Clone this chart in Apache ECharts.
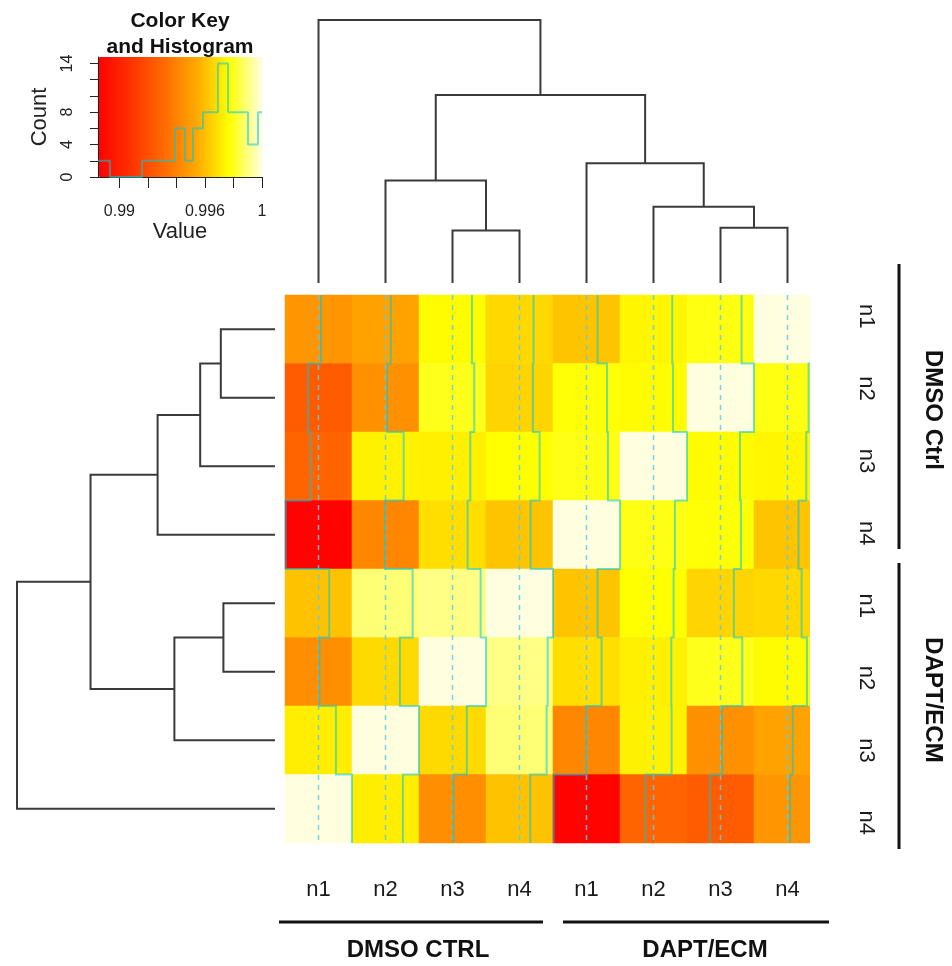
<!DOCTYPE html>
<html>
<head>
<meta charset="utf-8">
<script src="https://cdn.jsdelivr.net/npm/echarts@6/dist/echarts.min.js"></script>
<style>
html, body { margin: 0; padding: 0; background: #fff; }
#main { width: 952px; height: 966px; }
</style>
</head>
<body>
<div id="main"></div>
<script>
var colLabels = ['n1', 'n2', 'n3', 'n4', 'n1', 'n2', 'n3', 'n4'];
var rowLabels = ['n1', 'n2', 'n3', 'n4', 'n1', 'n2', 'n3', 'n4'];
var colGroups = ['DMSO CTRL', 'DAPT/ECM'];
var rowGroups = ['DMSO Ctrl', 'DAPT/ECM'];

// correlation values, rows top to bottom, columns left to right
var values = [
    [0.99471, 0.99517, 0.99759, 0.99667, 0.99615, 0.99747, 0.99787, 1.00000],
    [0.99247, 0.99454, 0.99799, 0.99655, 0.99776, 0.99759, 1.00000, 0.99787],
    [0.99287, 0.99736, 0.99730, 0.99770, 0.99793, 1.00000, 0.99759, 0.99747],
    [0.98862, 0.99419, 0.99684, 0.99615, 1.00000, 0.99793, 0.99776, 0.99615],
    [0.99609, 0.99891, 0.99908, 1.00000, 0.99615, 0.99770, 0.99655, 0.99667],
    [0.99442, 0.99672, 1.00000, 0.99908, 0.99684, 0.99730, 0.99799, 0.99759],
    [0.99724, 1.00000, 0.99672, 0.99891, 0.99419, 0.99736, 0.99454, 0.99517],
    [1.00000, 0.99724, 0.99442, 0.99609, 0.98862, 0.99287, 0.99247, 0.99471]
];

var keyMin = 0.9885, keyMax = 1.0;
var keyTicks = [0.99, 0.992, 0.994, 0.996, 0.998, 1];
var keyTickLabels = [0.99, 0.996, 1];
var countTicks = [0, 2, 4, 6, 8, 10, 12, 14];
var countTickLabels = [0, 4, 8, 14];
var histEdges = [0.9885, 0.98934, 0.99159, 0.99390, 0.99460, 0.99516, 0.99586, 0.99691, 0.99762, 0.99902, 0.99972, 1.0];
var histCounts = [2, 0, 2, 6, 2, 6, 8, 14, 8, 4, 8];

// dendrogram, hclust style: negative = leaf (display order), positive = earlier merge
var treeMerge = [[-3, -4], [-7, -8], [-6, 2], [-2, 1], [-5, 3], [4, 5], [-1, 6]];
var treeHeight = [0.20, 0.21, 0.29, 0.39, 0.455, 0.715, 1.0];

var heatColors = ['#ff0000', '#ff3200', '#ff6a00', '#ffa800', '#ffff00', '#ffffe0'];
var font = '"Liberation Sans", Arial, sans-serif';
var traceColor = 'rgba(0,200,220,0.55)';
var treeColor = '#3a3a3a';

function dendroSegments(merge, height) {
    var pos = [], hgt = [], segs = [];
    function node(k) {
        return k < 0 ? { p: -k - 1, h: 0 } : { p: pos[k - 1], h: hgt[k - 1] };
    }
    merge.forEach(function (m, i) {
        var a = node(m[0]), b = node(m[1]), h = height[i];
        segs.push([[a.p, a.h], [a.p, h], [b.p, h], [b.p, b.h]]);
        pos.push((a.p + b.p) / 2);
        hgt.push(h);
    });
    return segs;
}

var heatData = [];
values.forEach(function (row, i) {
    row.forEach(function (v, j) { heatData.push([j, i, v]); });
});

var span = keyMax - keyMin;
var traceData = colLabels.map(function (_, j) {
    var pts = [];
    values.forEach(function (row, i) {
        var x = j - 0.5 + (row[j] - keyMin) / span;
        pts.push([x, i - 0.5], [x, i + 0.5]);
    });
    return { coords: pts };
});
var centerData = colLabels.map(function (_, j) {
    return { coords: [[j, -0.5], [j, 7.5]] };
});

var segs = dendroSegments(treeMerge, treeHeight);
var topTree = segs.map(function (s) { return { coords: s }; });
var leftTree = segs.map(function (s) {
    return { coords: s.map(function (p) { return [p[1], p[0]]; }) };
});

var histLine = [];
histCounts.forEach(function (c, k) {
    histLine.push([histEdges[k], c], [histEdges[k + 1], c]);
});

var hidden = { show: false };
function hiddenValue(grid, min, max, inverse) {
    return { type: 'value', gridIndex: grid, min: min, max: max, inverse: !!inverse, show: false };
}

var chart = echarts.init(document.getElementById('main'));

var option = {
    animation: false,
    backgroundColor: '#fff',
    grid: [
        { left: 285, top: 295, width: 536, height: 548 },   // heatmap
        { left: 285, top: 295, width: 536, height: 548 },   // trace overlay
        { left: 285, top: 20, width: 536, height: 263 },    // column dendrogram
        { left: 17, top: 295, width: 258, height: 548 },    // row dendrogram
        { left: 98, top: 57, width: 164, height: 120 },     // colour key
        { left: 850, top: 280, width: 1, height: 579 }      // right labels
    ],
    xAxis: [
        {
            type: 'category', gridIndex: 0, data: colLabels,
            axisLine: hidden, axisTick: hidden, splitLine: hidden,
            axisLabel: { interval: 0, fontSize: 22, margin: 36, color: '#1a1a1a', fontFamily: font }
        },
        hiddenValue(1, -0.5, 7.5),
        hiddenValue(2, -0.5, 7.5),
        hiddenValue(3, 0, 1, true),
        {
            type: 'value', gridIndex: 4, min: keyMin, max: keyMax, z: 3,
            splitLine: hidden,
            axisLine: { lineStyle: { color: '#222', width: 1 } },
            axisTick: { customValues: keyTicks, length: 11, lineStyle: { color: '#222' } },
            axisLabel: { customValues: keyTickLabels, margin: 27, fontSize: 16, color: '#222', fontFamily: font },
            name: 'Value', nameLocation: 'middle', nameGap: 44,
            nameTextStyle: { fontSize: 22, color: '#222', fontFamily: font }
        },
        hiddenValue(5, 0, 1)
    ],
    yAxis: [
        { type: 'category', gridIndex: 0, data: rowLabels, inverse: true, show: false },
        hiddenValue(1, -0.5, 7.5, true),
        hiddenValue(2, 0, 1),
        hiddenValue(3, -0.5, 7.5),
        {
            type: 'value', gridIndex: 4, min: 0, max: 14.8, z: 3,
            splitLine: hidden,
            axisLine: { show: true, lineStyle: { color: '#222', width: 1 } },
            axisTick: { show: true, customValues: countTicks, length: 8, lineStyle: { color: '#222' } },
            axisLabel: { customValues: countTickLabels, rotate: 90, margin: 22, fontSize: 16, color: '#222', fontFamily: font },
            name: 'Count', nameLocation: 'middle', nameRotate: 90, nameGap: 47,
            nameTextStyle: { fontSize: 22, color: '#222', fontFamily: font }
        },
        {
            type: 'category', gridIndex: 5, data: rowLabels, inverse: true, position: 'right',
            axisLine: hidden, axisTick: hidden, splitLine: hidden,
            axisLabel: { interval: 0, rotate: -90, fontSize: 22, margin: 4, color: '#1a1a1a', fontFamily: font }
        }
    ],
    visualMap: {
        type: 'continuous', min: keyMin, max: keyMax, seriesIndex: 0,
        orient: 'horizontal', left: 98, top: 57, padding: 0,
        itemWidth: 120, itemHeight: 164, calculable: false, hoverLink: false,
        inRange: { color: heatColors }, z: 0
    },
    series: [
        {
            type: 'heatmap', xAxisIndex: 0, yAxisIndex: 0, data: heatData, silent: true
        },
        {
            type: 'lines', coordinateSystem: 'cartesian2d', xAxisIndex: 1, yAxisIndex: 1,
            polyline: true, silent: true, data: centerData, z: 3,
            lineStyle: { color: 'rgba(90,205,235,0.85)', opacity: 1, width: 1.5, type: [5, 5] }
        },
        {
            type: 'lines', coordinateSystem: 'cartesian2d', xAxisIndex: 1, yAxisIndex: 1,
            polyline: true, silent: true, data: traceData, z: 4,
            lineStyle: { color: traceColor, opacity: 1, width: 2, type: 'solid' }
        },
        {
            type: 'lines', coordinateSystem: 'cartesian2d', xAxisIndex: 2, yAxisIndex: 2,
            polyline: true, silent: true, data: topTree,
            lineStyle: { color: treeColor, opacity: 1, width: 2, type: 'solid' }
        },
        {
            type: 'lines', coordinateSystem: 'cartesian2d', xAxisIndex: 3, yAxisIndex: 3,
            polyline: true, silent: true, data: leftTree,
            lineStyle: { color: treeColor, opacity: 1, width: 2, type: 'solid' }
        },
        {
            type: 'line', xAxisIndex: 4, yAxisIndex: 4, data: histLine, z: 5,
            symbol: 'none', silent: true,
            lineStyle: { color: traceColor, width: 2 }
        }
    ],
    graphic: [
        // the last heatmap column is cut at the picture edge
        { type: 'rect', shape: { x: 810, y: 290, width: 14, height: 560 }, style: { fill: '#fff' }, z: 100 },
        {
            type: 'text', x: 180, y: 8, z: 100,
            style: { text: 'Color Key\nand Histogram', textAlign: 'center', textVerticalAlign: 'top',
                     font: 'bold 21px ' + font, lineHeight: 26, fill: '#111' }
        },
        { type: 'line', shape: { x1: 279, y1: 922, x2: 543, y2: 922 }, style: { stroke: '#111', lineWidth: 3 }, z: 100 },
        { type: 'line', shape: { x1: 563, y1: 922, x2: 829, y2: 922 }, style: { stroke: '#111', lineWidth: 3 }, z: 100 },
        {
            type: 'text', x: 418, y: 950, z: 100,
            style: { text: colGroups[0], textAlign: 'center', textVerticalAlign: 'middle', font: 'bold 24px ' + font, fill: '#111' }
        },
        {
            type: 'text', x: 705, y: 950, z: 100,
            style: { text: colGroups[1], textAlign: 'center', textVerticalAlign: 'middle', font: 'bold 24px ' + font, fill: '#111' }
        },
        { type: 'line', shape: { x1: 899, y1: 264, x2: 899, y2: 549 }, style: { stroke: '#111', lineWidth: 3 }, z: 100 },
        { type: 'line', shape: { x1: 899, y1: 563, x2: 899, y2: 849 }, style: { stroke: '#111', lineWidth: 3 }, z: 100 },
        {
            type: 'text', x: 933, y: 410, rotation: -Math.PI / 2, z: 100,
            style: { text: rowGroups[0], textAlign: 'center', textVerticalAlign: 'middle', font: 'bold 24px ' + font, fill: '#111' }
        },
        {
            type: 'text', x: 933, y: 700, rotation: -Math.PI / 2, z: 100,
            style: { text: rowGroups[1], textAlign: 'center', textVerticalAlign: 'middle', font: 'bold 24px ' + font, fill: '#111' }
        }
    ]
};

chart.setOption(option);
</script>
</body>
</html>
